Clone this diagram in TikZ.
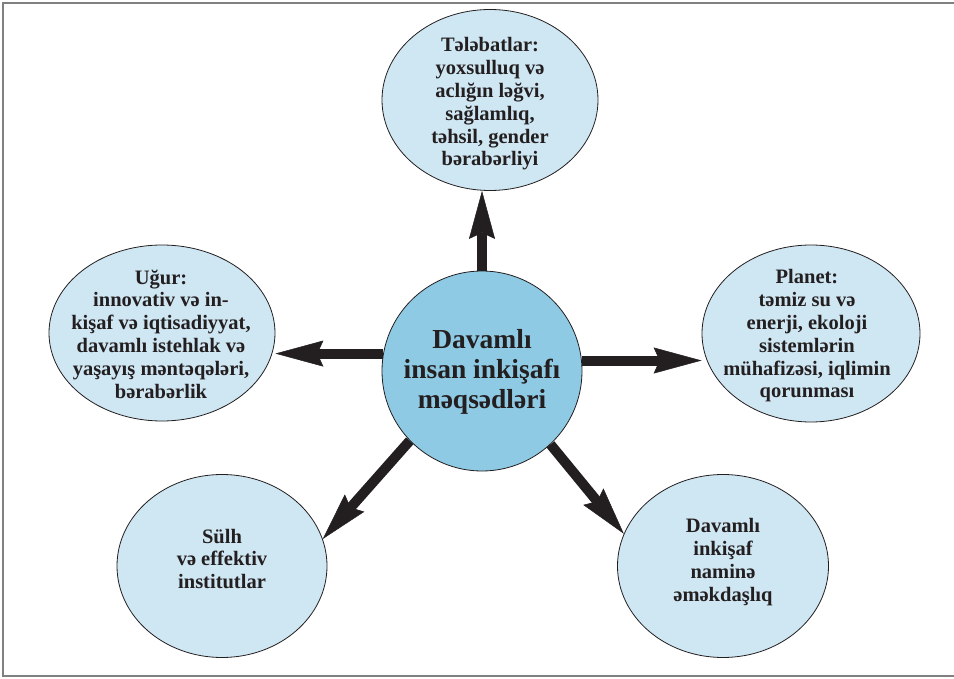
\documentclass[tikz,border=0pt]{standalone}
\usepackage{fontspec}
\setmainfont{Liberation Serif}
\usetikzlibrary{arrows.meta,shapes.geometric}
\definecolor{ink}{RGB}{35,31,32}
\definecolor{hub}{RGB}{143,202,228}
\definecolor{petal}{RGB}{207,230,243}
\definecolor{framegray}{RGB}{128,128,128}
\begin{document}
\begin{tikzpicture}[x=1pt,y=-1pt,
  bubble/.style={ellipse,draw=ink,line width=0.8pt,fill=petal,inner sep=0pt},
  txt/.style={align=center,text=ink,inner sep=0pt,font=\bfseries\fontsize{20.5}{22.8}\selectfont},
  hubtxt/.style={align=center,text=ink,inner sep=0pt,font=\bfseries\fontsize{27.5}{30}\selectfont},
  bigarrow/.style={draw=ink,line width=10pt,-{Stealth[length=48pt,width=26pt,inset=6pt,line width=0.5pt]}}]
\useasboundingbox (0,0) rectangle (954,679);
\draw[framegray,line width=2pt] (954,3) -- (3,3) -- (3,676) -- (954,676);

\node[bubble,minimum width=216pt,minimum height=181pt] (t) at (490,100) {};
\node[bubble,minimum width=226pt,minimum height=176pt] (l) at (162,333) {};
\node[bubble,minimum width=218pt,minimum height=177pt] (r) at (811,333.5) {};
\node[bubble,minimum width=210pt,minimum height=183pt] (bl) at (222,566) {};
\node[bubble,minimum width=211pt,minimum height=183pt] (br) at (723,566) {};
\node[circle,draw=ink,line width=0.8pt,fill=hub,inner sep=0pt,minimum size=200pt] (c) at (482,371) {};

\node[txt] (tt) at (490,104) {Tələbatlar:\\yoxsulluq və\\aclığın ləğvi,\\sağlamlıq,\\təhsil, gender\\bərabərliyi};
\node[txt] (lt) at (161,334) {Uğur:\\innovativ və in-\\kişaf və iqtisadiyyat,\\davamlı istehlak və\\yaşayış məntəqələri,\\bərabərlik};
\node[txt] (rt) at (807,336) {Planet:\\təmiz su və\\enerji, ekoloji\\sistemlərin\\mühafizəsi, iqlimin\\qorunması};
\node[txt] (blt) at (222,559) {Sülh\\və effektiv\\institutlar};
\node[txt] (brt) at (723,562) {Davamlı\\inkişaf\\naminə\\əməkdaşlıq};
\node[hubtxt] (ct) at (482,372) {Davamlı\\insan inkişafı\\məqsədləri};

\draw[bigarrow] (c.90) -- (c.90 |- t.south);
\draw[bigarrow] (c.170) -- (c.170 -| l.east);
\draw[bigarrow] (c.6) -- (c.6 -| r.west);
\draw[bigarrow] (c.224) -- (bl.15);
\draw[bigarrow] (c.-47) -- (br.162);
\end{tikzpicture}
\end{document}
